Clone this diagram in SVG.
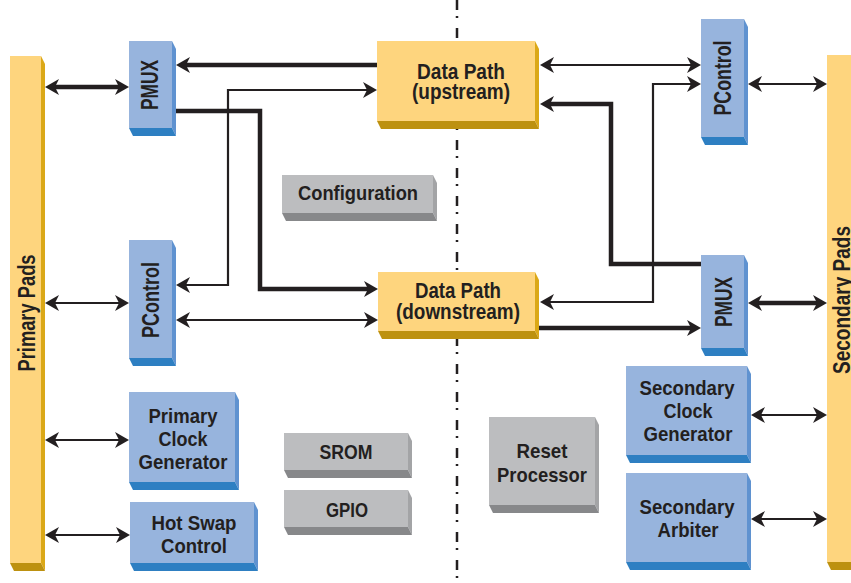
<svg xmlns="http://www.w3.org/2000/svg" width="851" height="583" viewBox="0 0 851 583">
<style>
.bf{fill:#97b4dd}.bs{fill:#5f92d0}.bb{fill:#2e7fc2}
.yf{fill:#fed57e}.ys{fill:#dba817}.yb{fill:#bd9110}
.gf{fill:#bcbdbf}.gs{fill:#a3a4a6}.gb{fill:#87888a}
text{font-family:"Liberation Sans",Arial,sans-serif;font-weight:bold;font-size:21px;fill:#231f20;text-anchor:middle}
.rot{font-size:23px}
.dp{font-size:22px}
.thick{fill:none;stroke:#231f20;stroke-width:4.5}
.thin{fill:none;stroke:#231f20;stroke-width:2.2}
.dash{fill:none;stroke:#231f20;stroke-width:2.5;stroke-dasharray:10 6 2 10}
</style>
<defs>
<marker id="ah" viewBox="-8 -9 16 18" refX="0" refY="0" markerWidth="16" markerHeight="18" markerUnits="userSpaceOnUse" orient="auto-start-reverse" overflow="visible">
<path d="M7,0 L-7,-8 L-3,0 L-7,8 Z" fill="#231f20"/>
</marker>
</defs>
<rect width="851" height="583" fill="#ffffff"/>
<path class="dash" d="M457,0 V583"/>

<g id="primary-pads">
<rect class="yf" x="10" y="56" width="31" height="507"/>
<polygon class="ys" points="41,56 45,64 45,571 41,563"/>
<polygon class="yb" points="10,563 41,563 45,571 14,571"/>
<text class="rot" transform="translate(35,313) rotate(-90)" textLength="117" lengthAdjust="spacingAndGlyphs">Primary Pads</text>
</g>
<g id="secondary-pads">
<rect class="yf" x="827" y="55" width="30" height="507"/>
<polygon class="yb" points="827,562 857,562 861,570 831,570"/>
<text class="rot" transform="translate(850,300) rotate(-90)" textLength="148" lengthAdjust="spacingAndGlyphs">Secondary Pads</text>
</g>
<g id="pmux-left">
<rect class="bf" x="129" y="41" width="43" height="87"/>
<polygon class="bs" points="172,41 176,49 176,136 172,128"/>
<polygon class="bb" points="129,128 172,128 176,136 133,136"/>
<text class="rot" transform="translate(158,85) rotate(-90)" textLength="50" lengthAdjust="spacingAndGlyphs">PMUX</text>
</g>
<g id="datapath-up">
<rect class="yf" x="377" y="41" width="158" height="80"/>
<polygon class="ys" points="535,41 539,49 539,129 535,121"/>
<polygon class="yb" points="377,121 535,121 539,129 381,129"/>
<text class="dp" x="461" y="79" textLength="88" lengthAdjust="spacingAndGlyphs">Data Path</text>
<text class="dp" x="461" y="99" textLength="98" lengthAdjust="spacingAndGlyphs">(upstream)</text>
</g>
<g id="pcontrol-right">
<rect class="bf" x="701" y="19" width="43" height="118"/>
<polygon class="bs" points="744,19 748,27 748,145 744,137"/>
<polygon class="bb" points="701,137 744,137 748,145 705,145"/>
<text class="rot" transform="translate(731,78) rotate(-90)" textLength="75" lengthAdjust="spacingAndGlyphs">PControl</text>
</g>
<g id="configuration">
<rect class="gf" x="282" y="175" width="151" height="38"/>
<polygon class="gs" points="433,175 437,183 437,221 433,213"/>
<polygon class="gb" points="282,213 433,213 437,221 286,221"/>
<text x="358" y="200" textLength="120" lengthAdjust="spacingAndGlyphs">Configuration</text>
</g>
<g id="pcontrol-left">
<rect class="bf" x="129" y="240" width="43" height="118"/>
<polygon class="bs" points="172,240 176,248 176,366 172,358"/>
<polygon class="bb" points="129,358 172,358 176,366 133,366"/>
<text class="rot" transform="translate(159,300) rotate(-90)" textLength="76" lengthAdjust="spacingAndGlyphs">PControl</text>
</g>
<g id="datapath-down">
<rect class="yf" x="378" y="272" width="157" height="59"/>
<polygon class="ys" points="535,272 539,280 539,339 535,331"/>
<polygon class="yb" points="378,331 535,331 539,339 382,339"/>
<text class="dp" x="458" y="298" textLength="86" lengthAdjust="spacingAndGlyphs">Data Path</text>
<text class="dp" x="458" y="319" textLength="124" lengthAdjust="spacingAndGlyphs">(downstream)</text>
</g>
<g id="pmux-right">
<rect class="bf" x="701" y="255" width="43" height="93"/>
<polygon class="bs" points="744,255 748,263 748,356 744,348"/>
<polygon class="bb" points="701,348 744,348 748,356 705,356"/>
<text class="rot" transform="translate(732,302) rotate(-90)" textLength="50" lengthAdjust="spacingAndGlyphs">PMUX</text>
</g>
<g id="primary-clock">
<rect class="bf" x="129" y="392" width="106" height="90"/>
<polygon class="bs" points="235,392 239,400 239,490 235,482"/>
<polygon class="bb" points="129,482 235,482 239,490 133,490"/>
<text x="183" y="423" textLength="69" lengthAdjust="spacingAndGlyphs">Primary</text>
<text x="183" y="446" textLength="49" lengthAdjust="spacingAndGlyphs">Clock</text>
<text x="183" y="469" textLength="89" lengthAdjust="spacingAndGlyphs">Generator</text>
</g>
<g id="hot-swap">
<rect class="bf" x="130" y="502" width="124" height="61"/>
<polygon class="bs" points="254,502 258,510 258,571 254,563"/>
<polygon class="bb" points="130,563 254,563 258,571 134,571"/>
<text x="194" y="530" textLength="85" lengthAdjust="spacingAndGlyphs">Hot Swap</text>
<text x="194" y="553" textLength="66" lengthAdjust="spacingAndGlyphs">Control</text>
</g>
<g id="srom">
<rect class="gf" x="284" y="433" width="124" height="37"/>
<polygon class="gs" points="408,433 412,441 412,478 408,470"/>
<polygon class="gb" points="284,470 408,470 412,478 288,478"/>
<text x="346" y="459" textLength="53" lengthAdjust="spacingAndGlyphs">SROM</text>
</g>
<g id="gpio">
<rect class="gf" x="284" y="490" width="124" height="37"/>
<polygon class="gs" points="408,490 412,498 412,535 408,527"/>
<polygon class="gb" points="284,527 408,527 412,535 288,535"/>
<text x="347" y="517" textLength="42" lengthAdjust="spacingAndGlyphs">GPIO</text>
</g>
<g id="reset-processor">
<rect class="gf" x="489" y="417" width="106" height="88"/>
<polygon class="gs" points="595,417 599,425 599,513 595,505"/>
<polygon class="gb" points="489,505 595,505 599,513 493,513"/>
<text x="542" y="458" textLength="51" lengthAdjust="spacingAndGlyphs">Reset</text>
<text x="542" y="482" textLength="90" lengthAdjust="spacingAndGlyphs">Processor</text>
</g>
<g id="secondary-clock">
<rect class="bf" x="626" y="366" width="121" height="89"/>
<polygon class="bs" points="747,366 751,374 751,463 747,455"/>
<polygon class="bb" points="626,455 747,455 751,463 630,463"/>
<text x="687" y="395" textLength="95" lengthAdjust="spacingAndGlyphs">Secondary</text>
<text x="688" y="418" textLength="49" lengthAdjust="spacingAndGlyphs">Clock</text>
<text x="688" y="441" textLength="89" lengthAdjust="spacingAndGlyphs">Generator</text>
</g>
<g id="secondary-arbiter">
<rect class="bf" x="626" y="473" width="121" height="89"/>
<polygon class="bs" points="747,473 751,481 751,570 747,562"/>
<polygon class="bb" points="626,562 747,562 751,570 630,570"/>
<text x="687" y="514" textLength="95" lengthAdjust="spacingAndGlyphs">Secondary</text>
<text x="688" y="537" textLength="61" lengthAdjust="spacingAndGlyphs">Arbiter</text>
</g>

<g id="connectors">
<path class="thick" d="M52,87 H122" marker-start="url(#ah)" marker-end="url(#ah)"/>
<path class="thick" d="M377,65 H183" marker-end="url(#ah)"/>
<path class="thick" d="M176,111 H260 V289 H371" marker-end="url(#ah)"/>
<path class="thin" d="M370,90 H228 V285 H183" marker-start="url(#ah)" marker-end="url(#ah)"/>
<path class="thin" d="M183,320 H371" marker-start="url(#ah)" marker-end="url(#ah)"/>
<path class="thin" d="M547,65 H694" marker-start="url(#ah)" marker-end="url(#ah)"/>
<path class="thick" d="M701,264 H611 V104 H547" marker-end="url(#ah)"/>
<path class="thin" d="M547,302 H653 V84 H694" marker-start="url(#ah)" marker-end="url(#ah)"/>
<path class="thick" d="M539,328 H694" marker-end="url(#ah)"/>
<path class="thin" d="M755,84 H820" marker-start="url(#ah)" marker-end="url(#ah)"/>
<path class="thick" d="M755,303 H820" marker-start="url(#ah)" marker-end="url(#ah)"/>
<path class="thin" d="M52,303 H122" marker-start="url(#ah)" marker-end="url(#ah)"/>
<path class="thin" d="M52,440 H122" marker-start="url(#ah)" marker-end="url(#ah)"/>
<path class="thin" d="M52,535 H123" marker-start="url(#ah)" marker-end="url(#ah)"/>
<path class="thin" d="M758,415 H820" marker-start="url(#ah)" marker-end="url(#ah)"/>
<path class="thin" d="M758,519 H820" marker-start="url(#ah)" marker-end="url(#ah)"/>
</g>
</svg>
